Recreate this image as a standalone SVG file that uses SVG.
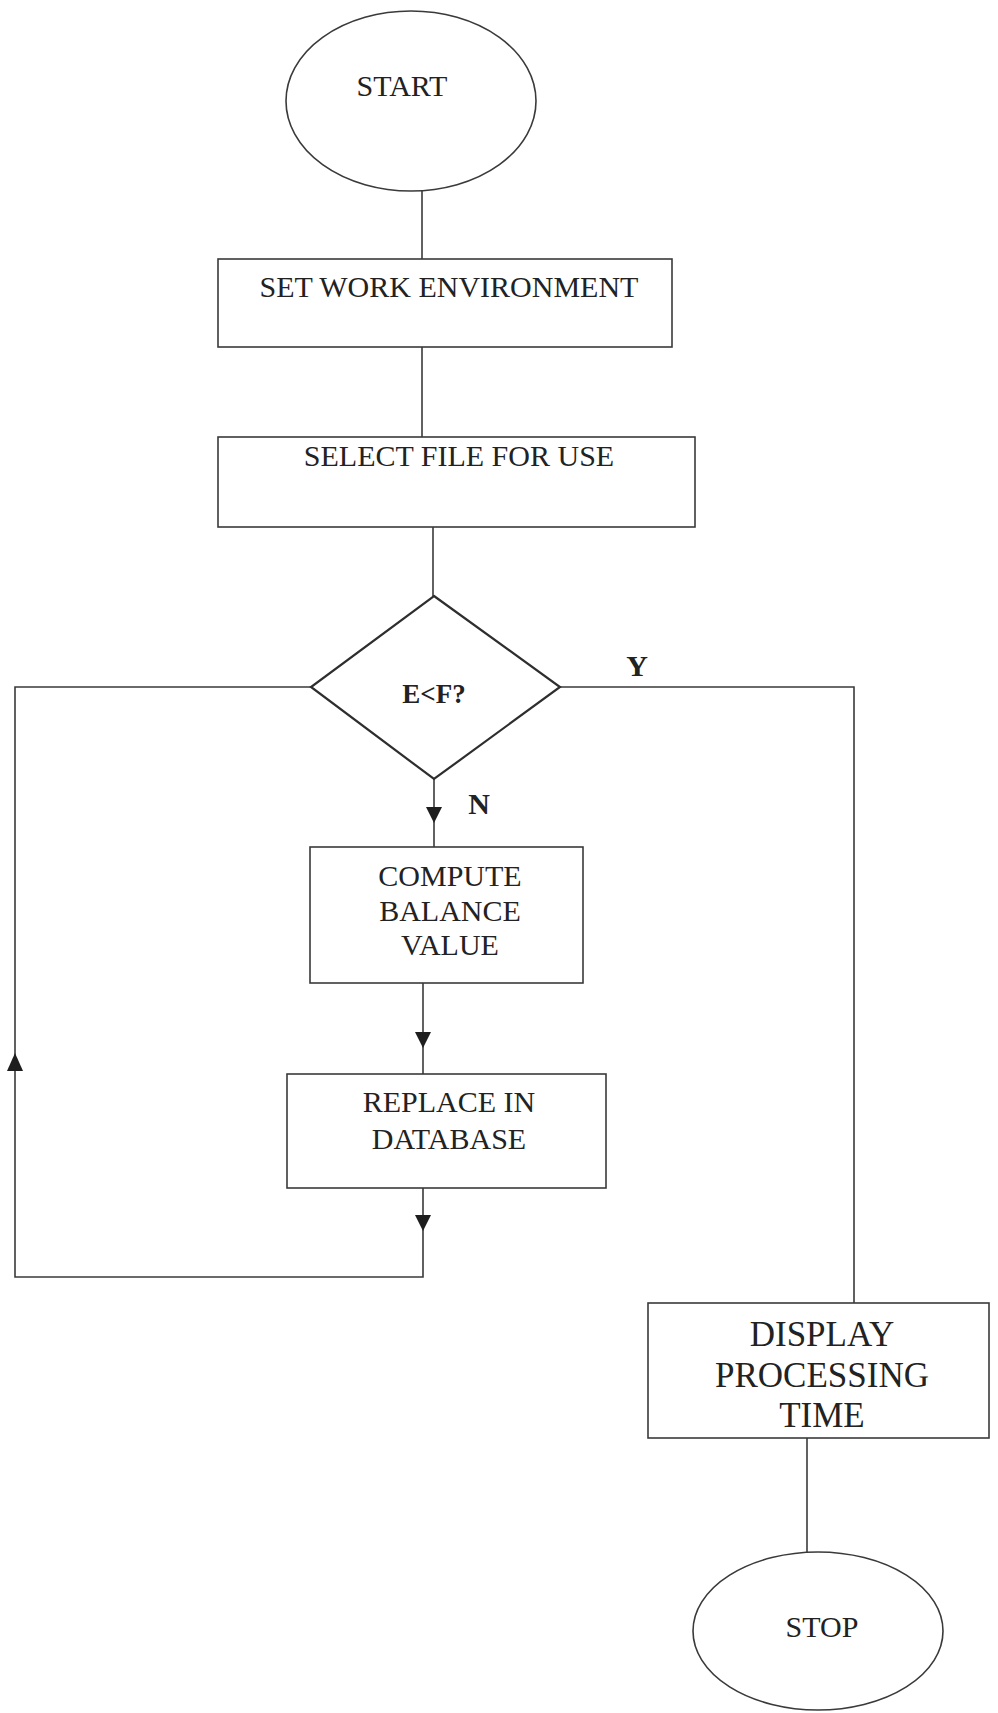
<svg xmlns="http://www.w3.org/2000/svg" xmlns:xlink="http://www.w3.org/1999/xlink" width="998" height="1713" viewBox="0 0 998 1713">
  <style>
    .shape { fill: #ffffff; stroke: #3a3a3a; stroke-width: 1.6; }
    .diamond { fill: #ffffff; stroke: #2e2e2e; stroke-width: 2.2; }
    .line { fill: none; stroke: #3a3a3a; stroke-width: 1.6; }
    .label { font-family: "Liberation Serif", "Times New Roman", serif; fill: #222222; text-anchor: middle; }
    .t30 { font-size: 30px; }
    .t35 { font-size: 35px; }
    .bold { font-weight: bold; }
    .head { fill: #1e1e1e; }
  </style>
  <defs>
    <!-- arrowhead pointing down, tip at origin -->
    <path id="arrowDown" class="head" d="M0,0 L-8,-16 L8,-16 Z"/>
    <!-- arrowhead pointing up, tip at origin -->
    <path id="arrowUp" class="head" d="M0,0 L-8,18 L8,18 Z"/>
  </defs>
  <rect width="998" height="1713" fill="#ffffff"/>

  <g id="connectors">
    <path class="line" d="M422,191 V259"/>
    <path class="line" d="M422,347 V437"/>
    <path class="line" d="M433,527 V596"/>
    <path class="line" d="M434,779 V847"/>
    <use xlink:href="#arrowDown" x="434" y="823"/>
    <path class="line" d="M423,983 V1074"/>
    <use xlink:href="#arrowDown" x="423" y="1048"/>
    <path class="line" d="M423,1188 V1277 H15 V687 H311"/>
    <use xlink:href="#arrowDown" x="423" y="1231"/>
    <use xlink:href="#arrowUp" x="15" y="1053"/>
    <path class="line" d="M560,687 H854 V1303"/>
    <path class="line" d="M807,1438 V1552"/>
    <text class="label t30 bold" x="637" y="676" font-size="24">Y</text>
    <text class="label t30 bold" x="479" y="814" font-size="24">N</text>
  </g>

  <g id="start">
    <ellipse class="shape" cx="411" cy="101" rx="125" ry="90"/>
    <text class="label t30" x="402" y="96">START</text>
  </g>

  <g id="set-work-environment">
    <rect class="shape" x="218" y="259" width="454" height="88"/>
    <text class="label t30" x="449" y="297">SET WORK ENVIRONMENT</text>
  </g>

  <g id="select-file">
    <rect class="shape" x="218" y="437" width="477" height="90"/>
    <text class="label t30" x="459" y="466">SELECT FILE FOR USE</text>
  </g>

  <g id="decision">
    <polygon class="diamond" points="434,596 560,687 434,779 311,687"/>
    <text class="label bold" x="434" y="703" font-size="27">E&lt;F?</text>
  </g>

  <g id="compute-balance">
    <rect class="shape" x="310" y="847" width="273" height="136"/>
    <text class="label t30" x="450" y="886">COMPUTE</text>
    <text class="label t30" x="450" y="921">BALANCE</text>
    <text class="label t30" x="450" y="955">VALUE</text>
  </g>

  <g id="replace-database">
    <rect class="shape" x="287" y="1074" width="319" height="114"/>
    <text class="label t30" x="449" y="1112">REPLACE IN</text>
    <text class="label t30" x="449" y="1149">DATABASE</text>
  </g>

  <g id="display-time">
    <rect class="shape" x="648" y="1303" width="341" height="135"/>
    <text class="label t35" x="822" y="1346">DISPLAY</text>
    <text class="label t35" x="822" y="1387">PROCESSING</text>
    <text class="label t35" x="822" y="1427">TIME</text>
  </g>

  <g id="stop">
    <ellipse class="shape" cx="818" cy="1631" rx="125" ry="79"/>
    <text class="label t30" x="822" y="1637">STOP</text>
  </g>
</svg>
